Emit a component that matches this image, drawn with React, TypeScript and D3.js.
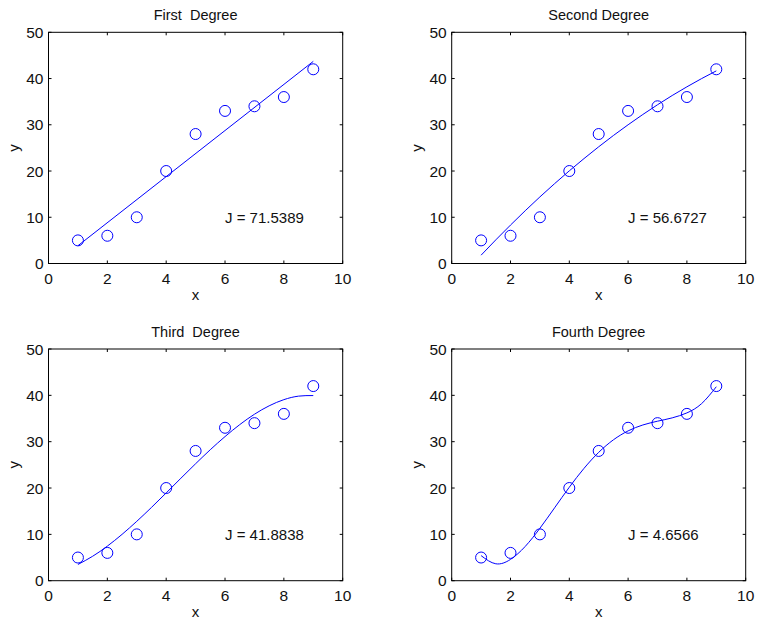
import React from "react";
import * as d3 from "d3";

// measured data
const xData = [1, 2, 3, 4, 5, 6, 7, 8, 9];
const yData = [5, 6, 10, 20, 28, 33, 34, 36, 42];

// fitted curves
const fitXLine = [1, 9];
const fitLine = [3.84, 43.71];
const fitX = [1, 1.5, 2, 2.5, 3, 3.5, 4, 4.5, 5, 5.5, 6, 6.5, 7, 7.5, 8, 8.5, 9];
const fitQuad = [1.8, 5.11, 8.31, 11.41, 14.4, 17.27, 20.04, 22.69, 25.24, 27.68, 30.0, 32.22, 34.33, 36.33, 38.21, 39.99, 41.66];
const fitCubic = [3.5, 5.27, 7.46, 10.0, 12.81, 15.81, 18.94, 22.11, 25.24, 28.27, 31.1, 33.68, 35.92, 37.74, 39.07, 39.83, 39.95];
const fitQuartic = [5.41, 3.65, 4.6, 7.39, 11.31, 15.73, 20.17, 24.24, 27.7, 30.4, 32.33, 33.6, 34.42, 35.14, 36.21, 38.21, 41.86];

const titles = ["First  Degree", "Second Degree", "Third  Degree", "Fourth Degree"];
const costs = ["J = 71.5389", "J = 56.6727", "J = 41.8838", "J = 4.6566"];
const xTicks = [0, 2, 4, 6, 8, 10];
const yTicks = [0, 10, 20, 30, 40, 50];

const W = 757;
const H = 622;
const FONT = "'Liberation Sans', Arial, Helvetica, sans-serif";
const BLUE = "#0000ff";

const panels = [
  { left: 48.5, right: 342.7, top: 32.3, bottom: 263.5, fx: fitXLine, fy: fitLine, curve: d3.curveLinear },
  { left: 451.7, right: 745.7, top: 32.3, bottom: 263.5, fx: fitX, fy: fitQuad, curve: d3.curveNatural },
  { left: 48.5, right: 342.7, top: 349, bottom: 580.7, fx: fitX, fy: fitCubic, curve: d3.curveNatural },
  { left: 451.7, right: 745.7, top: 349, bottom: 580.7, fx: fitX, fy: fitQuartic, curve: d3.curveNatural },
];

const Panel = ({ p, i }: { p: any; i: number }) => {
  const x = d3.scaleLinear().domain([0, 10]).range([p.left, p.right]);
  const y = d3.scaleLinear().domain([0, 50]).range([p.bottom, p.top]);
  const line = d3
    .line<number>()
    .x((_, k) => x(p.fx[k]))
    .y((d) => y(d))
    .curve(p.curve);
  const tl = 3;
  const midX = (p.left + p.right) / 2;
  const midY = (p.top + p.bottom) / 2;

  return (
    <g>
      <rect x={p.left} y={p.top} width={p.right - p.left} height={p.bottom - p.top} fill="white" stroke="black" strokeWidth={1} />
      {xTicks.map((t) => (
        <g key={"x" + t}>
          <line x1={x(t)} x2={x(t)} y1={p.bottom} y2={p.bottom - tl} stroke="black" />
          <line x1={x(t)} x2={x(t)} y1={p.top} y2={p.top + tl} stroke="black" />
          <text x={x(t)} y={p.bottom + 20} textAnchor="middle" fontSize={15.5} fill="#111">
            {t}
          </text>
        </g>
      ))}
      {yTicks.map((t) => (
        <g key={"y" + t}>
          <line x1={p.left} x2={p.left + tl} y1={y(t)} y2={y(t)} stroke="black" />
          <line x1={p.right} x2={p.right - tl} y1={y(t)} y2={y(t)} stroke="black" />
          <text x={p.left - 5} y={y(t)} dy="0.36em" textAnchor="end" fontSize={15.5} fill="#111">
            {t}
          </text>
        </g>
      ))}
      <path d={line(p.fy) || ""} fill="none" stroke={BLUE} strokeWidth={1} />
      {xData.map((d, k) => (
        <circle key={k} cx={x(d)} cy={y(yData[k])} r={5.5} fill="none" stroke={BLUE} strokeWidth={1} />
      ))}
      <text x={x(6)} y={y(10)} dy="0.36em" fontSize={15} fill="#111">
        {costs[i]}
      </text>
      <text x={midX} y={p.top - 12} textAnchor="middle" fontSize={14.5} fill="#111" style={{ whiteSpace: "pre" }}>
        {titles[i]}
      </text>
      <text x={midX} y={p.bottom + 36} textAnchor="middle" fontSize={15} fill="#111">
        x
      </text>
      <text transform={`translate(${p.left - 30},${midY}) rotate(-90)`} textAnchor="middle" fontSize={15} fill="#111">
        y
      </text>
    </g>
  );
};

export default function App() {
  return (
    <svg width={W} height={H} style={{ position: "absolute", left: 0, top: 0, background: "white" }} fontFamily={FONT}>
      <rect width={W} height={H} fill="white" />
      {panels.map((p, i) => (
        <Panel key={i} p={p} i={i} />
      ))}
    </svg>
  );
}
